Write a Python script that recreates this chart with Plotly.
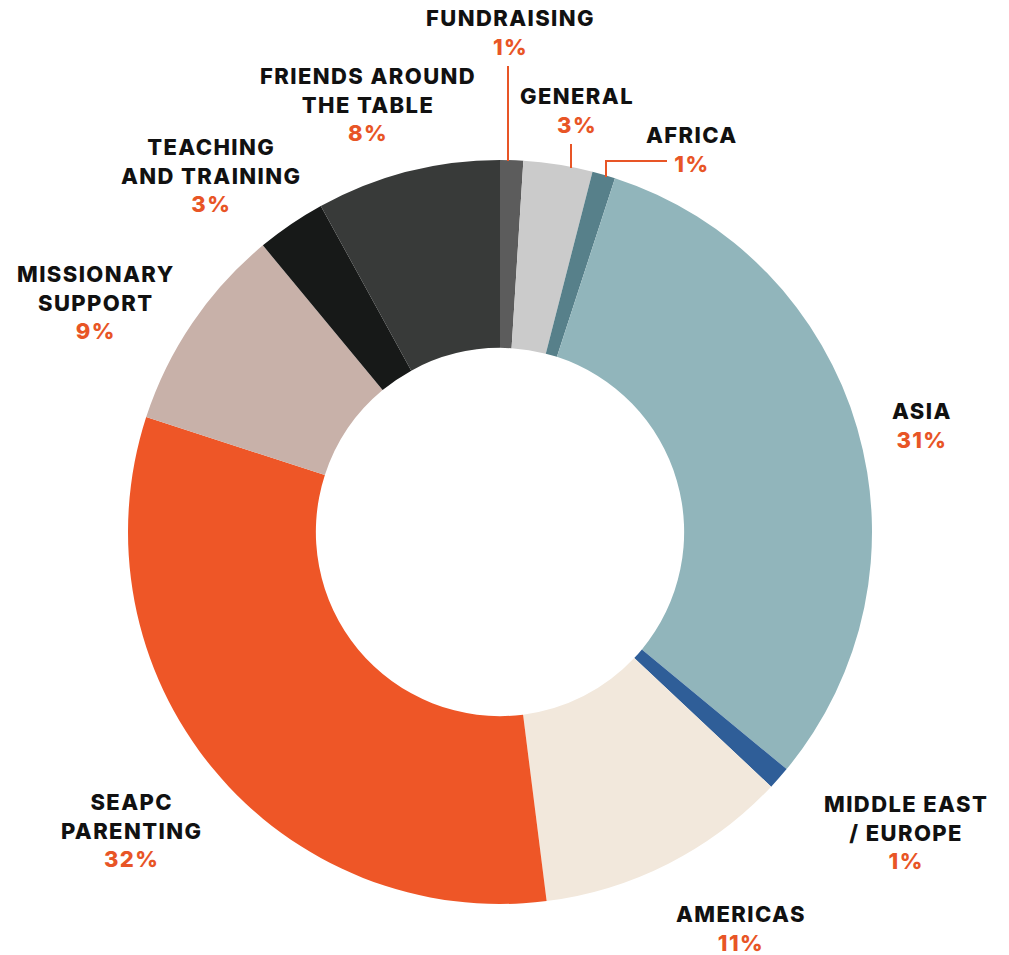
import plotly.graph_objects as go

# ---- data ----
categories = ["FUNDRAISING", "GENERAL", "AFRICA", "ASIA", "MIDDLE EAST / EUROPE",
              "AMERICAS", "SEAPC PARENTING", "MISSIONARY SUPPORT",
              "TEACHING AND TRAINING", "FRIENDS AROUND THE TABLE"]
values = [1, 3, 1, 31, 1, 11, 32, 9, 3, 8]
label_lines = [["FUNDRAISING"], ["GENERAL"], ["AFRICA"], ["ASIA"],
               ["MIDDLE EAST", "/ EUROPE"], ["AMERICAS"], ["SEAPC", "PARENTING"],
               ["MISSIONARY", "SUPPORT"], ["TEACHING", "AND TRAINING"],
               ["FRIENDS AROUND", "THE TABLE"]]
colors = ["#5c5c5c", "#cbcbcb", "#57808a", "#91b5bb", "#2f5e98",
          "#f2e8dc", "#ee5627", "#c8b1a9", "#171918", "#383a39"]

# ---- layout (pixels, page coordinates) ----
W, H = 1009, 955
OFF = 8  # default page body margin
CX, CY, R = 500, 532, 372
ORANGE = "#e85526"
FONT = "Inter"
FS = 22
LS = "letter-spacing:1.4px"

# label centre positions in pixels (x, y of text block centre)
label_pos = [(510, 32), (577, 110), (692, 150), (922, 425), (906, 832),
             (741, 928), (131, 830), (96, 303), (211, 175), (368, 105)]

def px(x):
    return (x - OFF) / W

def py(y):
    return 1 - (y - OFF) / H

fig = go.Figure(go.Pie(
    labels=categories, values=values, sort=False, direction="clockwise",
    rotation=0, hole=0.495, textinfo="none", hoverinfo="label+percent",
    marker=dict(colors=colors, line=dict(width=0)),
    domain=dict(x=[px(CX - R), px(CX + R)], y=[py(CY + R), py(CY - R)]),
    showlegend=False,
))

total = sum(values)
for lines, v, (lx, ly) in zip(label_lines, values, label_pos):
    pct = round(100 * v / total)
    parts = [f"<span style='{LS}'>{ln}</span>" for ln in lines]
    parts.append(f"<span style='{LS};color:{ORANGE}'>{pct}%</span>")
    fig.add_annotation(x=px(lx), y=py(ly), xref="paper", yref="paper",
                       text="<br>".join(parts), showarrow=False, align="center",
                       xanchor="center", yanchor="middle",
                       font=dict(family=FONT, size=FS, color="#111111", weight=800))

# leader lines
leader = dict(color=ORANGE, width=2)
fig.add_shape(type="line", xref="paper", yref="paper",
              x0=px(508), y0=py(66), x1=px(508), y1=py(161), line=leader)
fig.add_shape(type="line", xref="paper", yref="paper",
              x0=px(571), y0=py(144), x1=px(571), y1=py(168), line=leader)
fig.add_shape(type="path", xref="paper", yref="paper",
              path=f"M {px(606)} {py(177)} L {px(606)} {py(161)} L {px(667)} {py(161)}",
              line=leader)

fig.update_layout(width=W, height=H, margin=dict(l=0, r=0, t=0, b=0),
                  paper_bgcolor="white", plot_bgcolor="white")

fig.write_html("out.html")
